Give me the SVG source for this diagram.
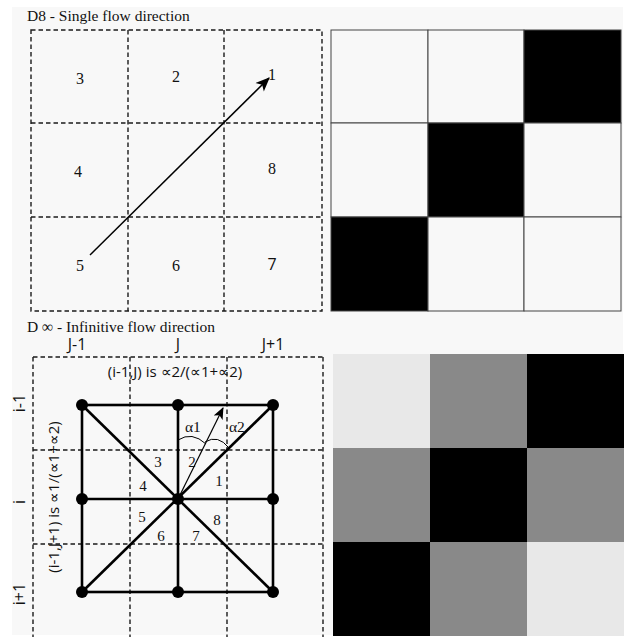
<svg xmlns="http://www.w3.org/2000/svg" width="626" height="637" viewBox="0 0 626 637">
<defs>
<style>
.bg{fill:#f8f8f8}
.dash{fill:none;stroke:#1a1a1a;stroke-width:1.4;stroke-dasharray:4.5,3}
.cell{stroke:#444;stroke-width:1}
.w{fill:#f8f8f8}
.k{fill:#000}
.g{fill:#898989}
.l{fill:#e8e8e8}
.title{font-family:"Liberation Serif",serif;font-size:15.5px;fill:#111}
.num{font-family:"Liberation Serif",serif;font-size:16px;fill:#111}
.num2{font-family:"Liberation Serif",serif;font-size:15px;fill:#111}
.sans{font-family:"Open Sans","Liberation Sans",sans-serif;font-size:15px;fill:#111}
.thick{stroke:#000;stroke-width:2.6;fill:none}
.dot{fill:#000}
</style>
<marker id="ah" viewBox="0 0 12 10" refX="11" refY="5" markerWidth="15" markerHeight="12" markerUnits="userSpaceOnUse" orient="auto">
<path d="M0,0 L12,5 L0,10 L3,5 z" fill="#000"/>
</marker>
<marker id="ah2" viewBox="0 0 12 10" refX="11" refY="5" markerWidth="12" markerHeight="10" markerUnits="userSpaceOnUse" orient="auto">
<path d="M0,0 L12,5 L0,10 L3,5 z" fill="#000"/>
</marker>
</defs>
<rect x="0" y="0" width="626" height="637" fill="#fff"/>
<rect class="bg" x="12" y="7" width="611" height="628"/>

<g id="d8-title"><text class="title" x="27" y="21">D8 - Single flow direction</text></g>

<g id="d8-grid">
<rect class="dash" x="31" y="30" width="291" height="281"/>
<line class="dash" x1="128" y1="30" x2="128" y2="311"/>
<line class="dash" x1="224" y1="30" x2="224" y2="311"/>
<line class="dash" x1="31" y1="123" x2="322" y2="123"/>
<line class="dash" x1="31" y1="217" x2="322" y2="217"/>
</g>
<g id="d8-labels" class="num">
<text x="80" y="84" text-anchor="middle">3</text>
<text x="176" y="82" text-anchor="middle">2</text>
<text x="272" y="80" text-anchor="middle">1</text>
<text x="78" y="177" text-anchor="middle">4</text>
<text x="272" y="174" text-anchor="middle">8</text>
<text x="80" y="271" text-anchor="middle">5</text>
<text x="176" y="271" text-anchor="middle">6</text>
<text x="272" y="270" text-anchor="middle" font-family="Open Sans, sans-serif" font-size="16">7</text>
</g>

<g id="d8-raster">
<rect class="cell w" x="331" y="30" width="97" height="93"/>
<rect class="cell w" x="428" y="30" width="96" height="93"/>
<rect class="cell k" x="524" y="30" width="97" height="93"/>
<rect class="cell w" x="331" y="123" width="97" height="94"/>
<rect class="cell k" x="428" y="123" width="96" height="94"/>
<rect class="cell w" x="524" y="123" width="97" height="94"/>
<rect class="cell k" x="331" y="217" width="97" height="94"/>
<rect class="cell w" x="428" y="217" width="96" height="94"/>
<rect class="cell w" x="524" y="217" width="97" height="94"/>
</g>

<g id="dinf-title"><text class="title" x="27" y="332">D ∞ - Infinitive flow direction</text></g>

<g id="dinf-axis" class="sans">
<text x="77" y="350" text-anchor="middle" font-size="16">J-1</text>
<text x="178" y="350" text-anchor="middle" font-size="16">J</text>
<text x="273" y="350" text-anchor="middle" font-size="16">J+1</text>
<text transform="translate(25,403) rotate(-90)" text-anchor="middle" font-size="16">i-1</text>
<text transform="translate(25,502) rotate(-90)" text-anchor="middle" font-size="16">i</text>
<text transform="translate(25,594) rotate(-90)" text-anchor="middle" font-size="16">i+1</text>
</g>

<g id="dinf-grid">
<line class="dash" x1="33" y1="357" x2="323" y2="357"/>
<line class="dash" x1="33" y1="357" x2="33" y2="637"/>
<line class="dash" x1="323" y1="357" x2="323" y2="637"/>
<line class="dash" x1="130" y1="357" x2="130" y2="637"/>
<line class="dash" x1="227" y1="357" x2="227" y2="637"/>
<line class="dash" x1="33" y1="450" x2="323" y2="450"/>
<line class="dash" x1="33" y1="544" x2="323" y2="544"/>
</g>

<g id="dinf-mesh">
<rect class="thick" x="82" y="405" width="191" height="187"/>
<line class="thick" x1="82" y1="499" x2="273" y2="499"/>
<line class="thick" x1="178" y1="405" x2="178" y2="592"/>
<line class="thick" x1="82" y1="405" x2="273" y2="592"/>
<line class="thick" x1="273" y1="405" x2="82" y2="592"/>
</g>
<g id="dinf-nodes">
<circle class="dot" cx="82" cy="405" r="6"/>
<circle class="dot" cx="178" cy="405" r="6"/>
<circle class="dot" cx="273" cy="405" r="6"/>
<circle class="dot" cx="82" cy="499" r="6"/>
<circle class="dot" cx="178" cy="499" r="6"/>
<circle class="dot" cx="273" cy="499" r="6"/>
<circle class="dot" cx="82" cy="592" r="6"/>
<circle class="dot" cx="178" cy="592" r="6"/>
<circle class="dot" cx="273" cy="592" r="6"/>
</g>

<g id="connectors">
<line x1="90" y1="255" x2="269" y2="78" stroke="#000" stroke-width="1.5" marker-end="url(#ah)"/>
<line x1="178" y1="499" x2="223" y2="408" stroke="#000" stroke-width="1.2" marker-end="url(#ah2)"/>
<path d="M178,440 Q192,431 206,444" fill="none" stroke="#000" stroke-width="1"/>
<path d="M205,442 Q218,434 229,448" fill="none" stroke="#000" stroke-width="1"/>
</g>

<g id="dinf-labels">
<text class="title" x="185" y="432" font-size="17">α1</text>
<text class="title" x="229" y="432" font-size="17">α2</text>
<text class="sans" x="175" y="377" text-anchor="middle" font-size="17.5">(i-1,J) is ∝2/(∝1+∝2)</text>
<text class="sans" transform="translate(59,497) rotate(-90)" text-anchor="middle" font-size="18.5">(i-1,J+1) is ∝1/(∝1+∝2)</text>
<g class="num2">
<text x="158" y="467" text-anchor="middle">3</text>
<text x="192" y="467" text-anchor="middle">2</text>
<text x="219" y="486" text-anchor="middle">1</text>
<text x="143" y="491" text-anchor="middle">4</text>
<text x="142" y="522" text-anchor="middle">5</text>
<text x="217" y="525" text-anchor="middle">8</text>
<text x="161" y="541" text-anchor="middle">6</text>
<text x="196" y="541" text-anchor="middle">7</text>
</g>
</g>

<g id="dinf-raster">
<rect class="l" x="333" y="354" width="97" height="94"/>
<rect class="g" x="430" y="354" width="97" height="94"/>
<rect class="k" x="527" y="354" width="97" height="94"/>
<rect class="g" x="333" y="448" width="97" height="94"/>
<rect class="k" x="430" y="448" width="97" height="94"/>
<rect class="g" x="527" y="448" width="97" height="94"/>
<rect class="k" x="333" y="542" width="97" height="94"/>
<rect class="g" x="430" y="542" width="97" height="94"/>
<rect class="l" x="527" y="542" width="97" height="94"/>
</g>
</svg>
